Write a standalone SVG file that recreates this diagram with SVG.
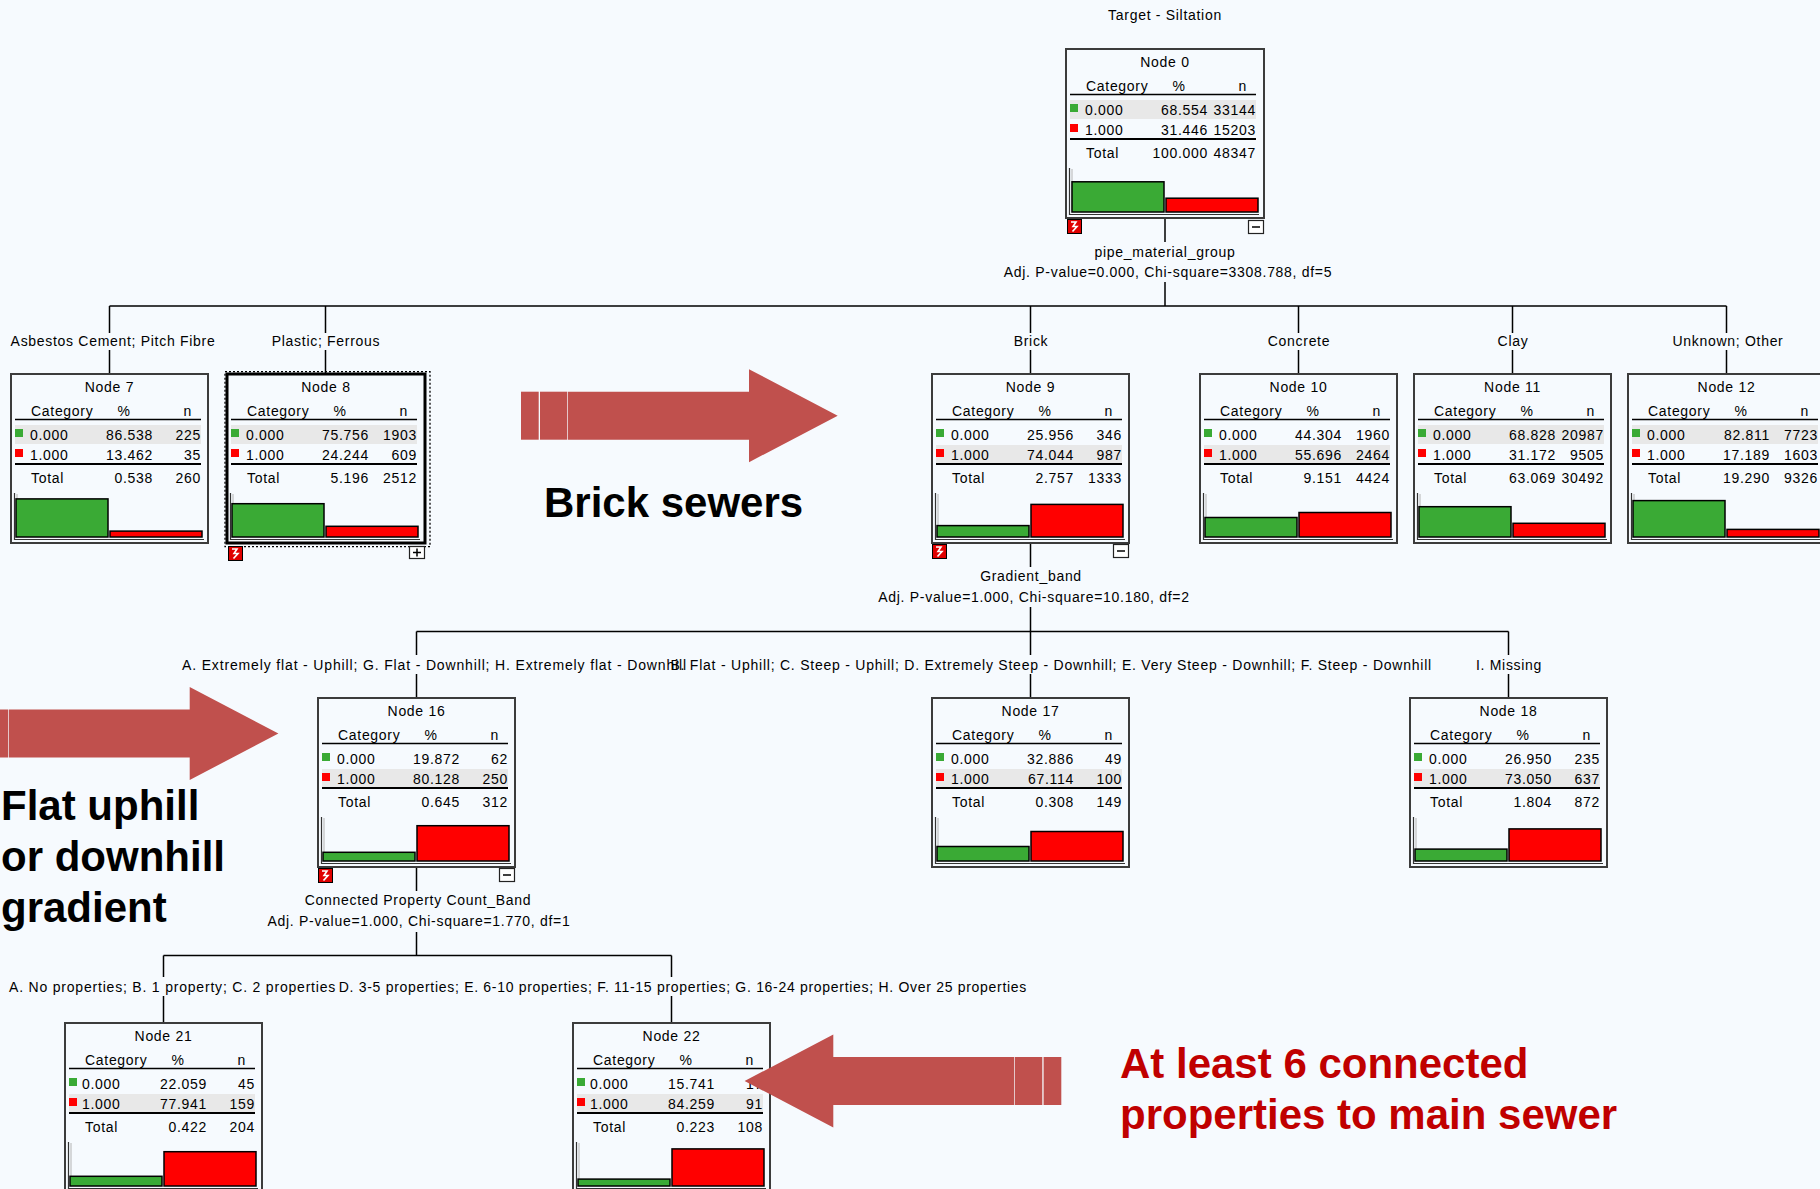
<svg xmlns="http://www.w3.org/2000/svg" xmlns:xlink="http://www.w3.org/1999/xlink" width="1820" height="1189" viewBox="0 0 1820 1189">
<defs>
<style>
.t{font-family:"Liberation Sans",Arial,sans-serif;font-size:14px;letter-spacing:0.7px;fill:#000}
.m{text-anchor:middle}
.e{text-anchor:end}
.box{fill:none;stroke:#3c3c3c;stroke-width:2}
.sel{fill:none;stroke:#000;stroke-width:3}
.dot{fill:none;stroke:#000;stroke-width:1.3;stroke-dasharray:2 2}
.hl{fill:#e8e8e8}
.r1{stroke:#000;stroke-width:1.5}
.r2{stroke:#000;stroke-width:2.2}
.sg{fill:#3aaa35}
.sr{fill:#ff0000}
.bg{fill:#3aaa35;stroke:#000;stroke-width:1.5}
.br{fill:#ff0000;stroke:#000;stroke-width:1.5}
.ax{fill:none;stroke:#333;stroke-width:1.2}
.ax2{fill:none;stroke:#b4b4b4;stroke-width:1}
.ln{fill:none;stroke:#000;stroke-width:1.5}
.big{font-family:"Liberation Sans",Arial,sans-serif;font-size:42px;font-weight:bold}
.arrow{fill:#c0504d}
</style>
<!-- block arrow pointing right, tip at origin -->
<g id="bigArrow" class="arrow">
<rect x="-316.7" y="-24" width="17.7" height="48"/>
<rect x="-297.7" y="-24" width="27.3" height="48"/>
<polygon points="-269.7,-24 -88.7,-24 -88.7,-46.5 0,0 -88.7,46.5 -88.7,24 -269.7,24"/>
</g>
<!-- expand/collapse tree icons -->
<g id="icoSplit">
<rect x="0.5" y="0.5" width="14" height="14" fill="#e00000" stroke="#000" stroke-width="1"/>
<path d="M4,3 H9 L6,7.5 H10 L5.5,12.5" fill="none" stroke="#fff" stroke-width="1.6"/>
</g>
<g id="icoMinus">
<rect x="0.5" y="0.5" width="15" height="13" fill="#fff" stroke="#222" stroke-width="1.2"/>
<path d="M4,7 H12" stroke="#000" stroke-width="1.5"/>
</g>
<g id="icoPlus">
<rect x="0.5" y="0.5" width="15" height="12" fill="#fff" stroke="#222" stroke-width="1.2"/>
<path d="M4,6.5 H12 M8,2.5 V10.5" stroke="#000" stroke-width="1.5"/>
</g>
<!-- table frame shared by every node -->
<g id="frame">
<line class="r1" x1="4" y1="45.5" x2="190" y2="45.5"/>
<line class="r2" x1="4" y1="90" x2="190" y2="90"/>
<rect class="sg" x="4" y="55" width="8" height="8"/>
<rect class="sr" x="4" y="75" width="8" height="8"/>
<path class="ax2" d="M6,120 V163.5"/>
<path class="ax" d="M3.5,119 V165.5 H193"/>
</g>
<g id="head">
<text class="t" x="20" y="42">Category</text>
<text class="t m" x="113" y="42">%</text>
<text class="t e" x="181" y="42">n</text>
<text class="t" x="20" y="109">Total</text>
</g>
</defs>

<rect width="1820" height="1189" fill="#f6fafe"/>

<text class="t m" x="1165" y="20">Target - Siltation</text>

<!-- connectors and split labels -->
<g id="connectors">
<path class="ln" d="M1165,218 V242 M1165,282 V306 M109.5,306 H1726.5
 M109.5,306 V333 M109.5,350 V374
 M325.5,306 V333 M325.5,350 V374
 M1030.5,306 V333 M1030.5,350 V374
 M1298.5,306 V333 M1298.5,350 V374
 M1512.5,306 V333 M1512.5,350 V374
 M1726.5,306 V333 M1726.5,350 V374
 M1030.5,543 V567 M1030.5,607 V631.5 M416.5,631.5 H1508.5
 M416.5,631.5 V655 M416.5,674 V698
 M1030.5,631.5 V655 M1030.5,674 V698
 M1508.5,631.5 V655 M1508.5,674 V698
 M416.5,867 V891 M416.5,932 V955.5 M163.5,955.5 H671.5
 M163.5,955.5 V977 M163.5,996 V1023
 M671.5,955.5 V977 M671.5,996 V1023"/>
<text class="t m" x="1165" y="257">pipe_material_group</text>
<text class="t m" x="1168" y="277">Adj. P-value=0.000, Chi-square=3308.788, df=5</text>
<text class="t m" x="113" y="346">Asbestos Cement; Pitch Fibre</text>
<text class="t m" x="326" y="346">Plastic; Ferrous</text>
<text class="t m" x="1031" y="346">Brick</text>
<text class="t m" x="1299" y="346">Concrete</text>
<text class="t m" x="1513" y="346">Clay</text>
<text class="t m" x="1728" y="346">Unknown; Other</text>
<text class="t m" x="1031" y="581">Gradient_band</text>
<text class="t m" x="1034" y="602">Adj. P-value=1.000, Chi-square=10.180, df=2</text>
<text class="t" x="182" y="670" style="letter-spacing:0.85px">A. Extremely flat - Uphill; G. Flat - Downhill; H. Extremely flat - Downhill</text>
<text class="t e" x="1432" y="670" style="letter-spacing:0.77px">B. Flat - Uphill; C. Steep - Uphill; D. Extremely Steep - Downhill; E. Very Steep - Downhill; F. Steep - Downhill</text>
<text class="t m" x="1509" y="670">I. Missing</text>
<text class="t m" x="418" y="905">Connected Property Count_Band</text>
<text class="t m" x="419" y="926">Adj. P-value=1.000, Chi-square=1.770, df=1</text>
<text class="t" x="9" y="992" style="letter-spacing:0.8px">A. No properties; B. 1 property; C. 2 properties</text>
<text class="t e" x="1027" y="992">D. 3-5 properties; E. 6-10 properties; F. 11-15 properties; G. 16-24 properties; H. Over 25 properties</text>
</g>

<!-- Node 0 -->
<g id="node0" transform="translate(1066,49)">
<rect class="hl" x="4" y="51" width="186" height="19"/>
<use xlink:href="#frame"/><use xlink:href="#head"/>
<rect class="box" width="198" height="169"/>
<text class="t m" x="99" y="18">Node 0</text>
<text class="t" x="19" y="66">0.000</text><text class="t e" x="142" y="66">68.554</text><text class="t e" x="190" y="66">33144</text>
<text class="t" x="19" y="86">1.000</text><text class="t e" x="142" y="86">31.446</text><text class="t e" x="190" y="86">15203</text>
<text class="t e" x="142" y="109">100.000</text><text class="t e" x="190" y="109">48347</text>
<rect class="bg" x="6" y="132.8" width="92" height="30.2"/>
<rect class="br" x="100" y="149.2" width="92" height="13.8"/>
<use xlink:href="#icoSplit" x="1" y="170"/>
<use xlink:href="#icoMinus" x="182" y="171"/>
</g>

<!-- Node 7 -->
<g id="node7" transform="translate(11,374)">
<rect class="hl" x="4" y="51" width="186" height="19"/>
<use xlink:href="#frame"/><use xlink:href="#head"/>
<rect class="box" width="197" height="169"/>
<text class="t m" x="98.5" y="18">Node 7</text>
<text class="t" x="19" y="66">0.000</text><text class="t e" x="142" y="66">86.538</text><text class="t e" x="190" y="66">225</text>
<text class="t" x="19" y="86">1.000</text><text class="t e" x="142" y="86">13.462</text><text class="t e" x="190" y="86">35</text>
<text class="t e" x="142" y="109">0.538</text><text class="t e" x="190" y="109">260</text>
<rect class="bg" x="5" y="124.9" width="92" height="38.1"/>
<rect class="br" x="99" y="157.1" width="92" height="5.9"/>
</g>

<!-- Node 8 (selected) -->
<g id="node8" transform="translate(227,374)">
<rect class="dot" x="-2" y="-2.3" width="205" height="175"/>
<rect class="hl" x="4" y="51" width="186" height="19"/>
<use xlink:href="#frame"/><use xlink:href="#head"/>
<rect class="sel" width="198" height="169"/>
<text class="t m" x="99" y="18">Node 8</text>
<text class="t" x="19" y="66">0.000</text><text class="t e" x="142" y="66">75.756</text><text class="t e" x="190" y="66">1903</text>
<text class="t" x="19" y="86">1.000</text><text class="t e" x="142" y="86">24.244</text><text class="t e" x="190" y="86">609</text>
<text class="t e" x="142" y="109">5.196</text><text class="t e" x="190" y="109">2512</text>
<rect class="bg" x="5" y="129.7" width="92" height="33.3"/>
<rect class="br" x="99" y="152.3" width="92" height="10.7"/>
<use xlink:href="#icoSplit" x="1" y="172"/>
<use xlink:href="#icoPlus" x="182" y="172"/>
</g>

<!-- Node 9 -->
<g id="node9" transform="translate(932,374)">
<rect class="hl" x="4" y="71" width="186" height="18"/>
<use xlink:href="#frame"/><use xlink:href="#head"/>
<rect class="box" width="197" height="169"/>
<text class="t m" x="98.5" y="18">Node 9</text>
<text class="t" x="19" y="66">0.000</text><text class="t e" x="142" y="66">25.956</text><text class="t e" x="190" y="66">346</text>
<text class="t" x="19" y="86">1.000</text><text class="t e" x="142" y="86">74.044</text><text class="t e" x="190" y="86">987</text>
<text class="t e" x="142" y="109">2.757</text><text class="t e" x="190" y="109">1333</text>
<rect class="bg" x="5" y="151.6" width="92" height="11.4"/>
<rect class="br" x="99" y="130.4" width="92" height="32.6"/>
<use xlink:href="#icoSplit" x="0" y="170"/>
<use xlink:href="#icoMinus" x="181" y="170"/>
</g>

<!-- Node 10 -->
<g id="node10" transform="translate(1200,374)">
<rect class="hl" x="4" y="71" width="186" height="18"/>
<use xlink:href="#frame"/><use xlink:href="#head"/>
<rect class="box" width="197" height="169"/>
<text class="t m" x="98.5" y="18">Node 10</text>
<text class="t" x="19" y="66">0.000</text><text class="t e" x="142" y="66">44.304</text><text class="t e" x="190" y="66">1960</text>
<text class="t" x="19" y="86">1.000</text><text class="t e" x="142" y="86">55.696</text><text class="t e" x="190" y="86">2464</text>
<text class="t e" x="142" y="109">9.151</text><text class="t e" x="190" y="109">4424</text>
<rect class="bg" x="5" y="143.5" width="92" height="19.5"/>
<rect class="br" x="99" y="138.5" width="92" height="24.5"/>
</g>

<!-- Node 11 -->
<g id="node11" transform="translate(1414,374)">
<rect class="hl" x="4" y="51" width="186" height="19"/>
<use xlink:href="#frame"/><use xlink:href="#head"/>
<rect class="box" width="197" height="169"/>
<text class="t m" x="98.5" y="18">Node 11</text>
<text class="t" x="19" y="66">0.000</text><text class="t e" x="142" y="66">68.828</text><text class="t e" x="190" y="66">20987</text>
<text class="t" x="19" y="86">1.000</text><text class="t e" x="142" y="86">31.172</text><text class="t e" x="190" y="86">9505</text>
<text class="t e" x="142" y="109">63.069</text><text class="t e" x="190" y="109">30492</text>
<rect class="bg" x="5" y="132.7" width="92" height="30.3"/>
<rect class="br" x="99" y="149.3" width="92" height="13.7"/>
</g>

<!-- Node 12 -->
<g id="node12" transform="translate(1628,374)">
<rect class="hl" x="4" y="51" width="186" height="19"/>
<use xlink:href="#frame"/><use xlink:href="#head"/>
<rect class="box" width="197" height="169"/>
<text class="t m" x="98.5" y="18">Node 12</text>
<text class="t" x="19" y="66">0.000</text><text class="t e" x="142" y="66">82.811</text><text class="t e" x="190" y="66">7723</text>
<text class="t" x="19" y="86">1.000</text><text class="t e" x="142" y="86">17.189</text><text class="t e" x="190" y="86">1603</text>
<text class="t e" x="142" y="109">19.290</text><text class="t e" x="190" y="109">9326</text>
<rect class="bg" x="5" y="126.6" width="92" height="36.4"/>
<rect class="br" x="99" y="155.4" width="92" height="7.6"/>
</g>

<!-- Node 16 -->
<g id="node16" transform="translate(318,698)">
<rect class="hl" x="4" y="71" width="186" height="18"/>
<use xlink:href="#frame"/><use xlink:href="#head"/>
<rect class="box" width="197" height="169"/>
<text class="t m" x="98.5" y="18">Node 16</text>
<text class="t" x="19" y="66">0.000</text><text class="t e" x="142" y="66">19.872</text><text class="t e" x="190" y="66">62</text>
<text class="t" x="19" y="86">1.000</text><text class="t e" x="142" y="86">80.128</text><text class="t e" x="190" y="86">250</text>
<text class="t e" x="142" y="109">0.645</text><text class="t e" x="190" y="109">312</text>
<rect class="bg" x="5" y="154.3" width="92" height="8.7"/>
<rect class="br" x="99" y="127.7" width="92" height="35.3"/>
<use xlink:href="#icoSplit" x="0" y="170"/>
<use xlink:href="#icoMinus" x="181" y="170"/>
</g>

<!-- Node 17 -->
<g id="node17" transform="translate(932,698)">
<rect class="hl" x="4" y="71" width="186" height="18"/>
<use xlink:href="#frame"/><use xlink:href="#head"/>
<rect class="box" width="197" height="169"/>
<text class="t m" x="98.5" y="18">Node 17</text>
<text class="t" x="19" y="66">0.000</text><text class="t e" x="142" y="66">32.886</text><text class="t e" x="190" y="66">49</text>
<text class="t" x="19" y="86">1.000</text><text class="t e" x="142" y="86">67.114</text><text class="t e" x="190" y="86">100</text>
<text class="t e" x="142" y="109">0.308</text><text class="t e" x="190" y="109">149</text>
<rect class="bg" x="5" y="148.5" width="92" height="14.5"/>
<rect class="br" x="99" y="133.5" width="92" height="29.5"/>
</g>

<!-- Node 18 -->
<g id="node18" transform="translate(1410,698)">
<rect class="hl" x="4" y="71" width="186" height="18"/>
<use xlink:href="#frame"/><use xlink:href="#head"/>
<rect class="box" width="197" height="169"/>
<text class="t m" x="98.5" y="18">Node 18</text>
<text class="t" x="19" y="66">0.000</text><text class="t e" x="142" y="66">26.950</text><text class="t e" x="190" y="66">235</text>
<text class="t" x="19" y="86">1.000</text><text class="t e" x="142" y="86">73.050</text><text class="t e" x="190" y="86">637</text>
<text class="t e" x="142" y="109">1.804</text><text class="t e" x="190" y="109">872</text>
<rect class="bg" x="5" y="151.1" width="92" height="11.9"/>
<rect class="br" x="99" y="130.9" width="92" height="32.1"/>
</g>

<!-- Node 21 -->
<g id="node21" transform="translate(65,1023)">
<rect class="hl" x="4" y="71" width="186" height="18"/>
<use xlink:href="#frame"/><use xlink:href="#head"/>
<rect class="box" width="197" height="169"/>
<text class="t m" x="98.5" y="18">Node 21</text>
<text class="t" x="17" y="66">0.000</text><text class="t e" x="142" y="66">22.059</text><text class="t e" x="190" y="66">45</text>
<text class="t" x="17" y="86">1.000</text><text class="t e" x="142" y="86">77.941</text><text class="t e" x="190" y="86">159</text>
<text class="t e" x="142" y="109">0.422</text><text class="t e" x="190" y="109">204</text>
<rect class="bg" x="5" y="153.3" width="92" height="9.7"/>
<rect class="br" x="99" y="128.7" width="92" height="34.3"/>
</g>

<!-- Node 22 -->
<g id="node22" transform="translate(573,1023)">
<rect class="hl" x="4" y="71" width="186" height="18"/>
<use xlink:href="#frame"/><use xlink:href="#head"/>
<rect class="box" width="197" height="169"/>
<text class="t m" x="98.5" y="18">Node 22</text>
<text class="t" x="17" y="66">0.000</text><text class="t e" x="142" y="66">15.741</text><text class="t e" x="190" y="66">17</text>
<text class="t" x="17" y="86">1.000</text><text class="t e" x="142" y="86">84.259</text><text class="t e" x="190" y="86">91</text>
<text class="t e" x="142" y="109">0.223</text><text class="t e" x="190" y="109">108</text>
<rect class="bg" x="5" y="156.1" width="92" height="6.9"/>
<rect class="br" x="99" y="125.9" width="92" height="37.1"/>
</g>

<!-- callouts -->
<g id="calloutBrick">
<use xlink:href="#bigArrow" transform="translate(837.7,415.7)"/>
<text class="big" x="544" y="517" fill="#000">Brick sewers</text>
</g>
<g id="calloutGradient">
<use xlink:href="#bigArrow" transform="translate(278.4,733.5)"/>
<text class="big" x="1" y="820" fill="#000">Flat uphill</text>
<text class="big" x="1" y="871" fill="#000">or downhill</text>
<text class="big" x="1" y="922" fill="#000">gradient</text>
</g>
<g id="calloutProperties">
<use xlink:href="#bigArrow" transform="translate(744.6,1081) scale(-1,1)"/>
<text class="big" x="1120" y="1078" fill="#c00000">At least 6 connected</text>
<text class="big" x="1120" y="1129" fill="#c00000">properties to main sewer</text>
</g>
</svg>
